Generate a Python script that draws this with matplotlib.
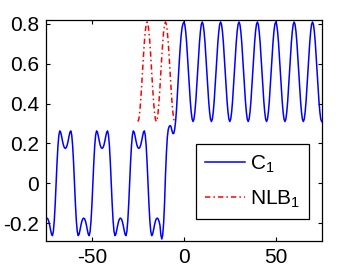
import numpy as np
import matplotlib
matplotlib.use("Agg")
from matplotlib import pyplot as plt

plt.rcParams['font.family'] = ['Liberation Sans', 'DejaVu Sans']
plt.rcParams['mathtext.fontset'] = 'custom'
plt.rcParams['mathtext.rm'] = 'Liberation Sans'
plt.rcParams['mathtext.default'] = 'regular'

# C1, left part: x = -75 ... -13, step 0.5
c1_left = [
    -0.179, -0.175, -0.179, -0.191, -0.211, -0.235, -0.256, -0.263, -0.242, -0.188,
    -0.104, 0.0, 0.104, 0.188, 0.242, 0.263, 0.256, 0.235, 0.211, 0.191, 0.179,
    # period 1
    0.175, 0.179, 0.191, 0.211, 0.235, 0.256, 0.263, 0.242, 0.188, 0.104,
    0.0, -0.104, -0.188, -0.242, -0.263, -0.256, -0.235, -0.211, -0.191, -0.179,
    -0.175, -0.179, -0.191, -0.211, -0.235, -0.256, -0.263, -0.242, -0.188, -0.104,
    0.0, 0.104, 0.188, 0.242, 0.263, 0.256, 0.235, 0.211, 0.191, 0.179,
    # period 2
    0.175, 0.179, 0.191, 0.211, 0.235, 0.256, 0.263, 0.242, 0.188, 0.104,
    0.0, -0.104, -0.188, -0.242, -0.263, -0.256, -0.235, -0.211, -0.191, -0.179,
    -0.175, -0.179, -0.191, -0.211, -0.235, -0.256, -0.263, -0.242, -0.188, -0.104,
    0.0, 0.104, 0.188, 0.242, 0.263, 0.256, 0.235, 0.211, 0.191, 0.179,
    # last
    0.175, 0.179, 0.191, 0.211, 0.235, 0.256, 0.263, 0.242, 0.188, 0.104,
    0.0, -0.104, -0.188, -0.242, -0.263, -0.256, -0.235, -0.211, -0.191, -0.179,
    -0.175, -0.179, -0.191, -0.211,
]

# C1, transition: x = -12.5 ... 0, step 0.5
c1_mid = [
    -0.26, -0.28, -0.26, -0.20, -0.10, 0.04, 0.15, 0.23, 0.27, 0.285,
    0.29, 0.285, 0.265, 0.25, 0.25, 0.27, 0.31, 0.37, 0.45, 0.53,
    0.61, 0.68, 0.74, 0.78, 0.80, 0.81,
]

# C1, right part: x = 0.5 ... 75, step 0.5
c1_right = [
    0.798, 0.762, 0.707, 0.637, 0.56, 0.483, 0.413, 0.358, 0.322, 0.31,
    0.322, 0.358, 0.413, 0.483, 0.56, 0.637, 0.707, 0.762, 0.798,
    0.81, 0.798, 0.762, 0.707, 0.637, 0.56, 0.483, 0.413, 0.358, 0.322,
    0.31, 0.322, 0.358, 0.413, 0.483, 0.56, 0.637, 0.707, 0.762, 0.798,
    0.81, 0.798, 0.762, 0.707, 0.637, 0.56, 0.483, 0.413, 0.358, 0.322,
    0.31, 0.322, 0.358, 0.413, 0.483, 0.56, 0.637, 0.707, 0.762, 0.798,
    0.81, 0.798, 0.762, 0.707, 0.637, 0.56, 0.483, 0.413, 0.358, 0.322,
    0.31, 0.322, 0.358, 0.413, 0.483, 0.56, 0.637, 0.707, 0.762, 0.798,
    0.81, 0.798, 0.762, 0.707, 0.637, 0.56, 0.483, 0.413, 0.358, 0.322,
    0.31, 0.322, 0.358, 0.413, 0.483, 0.56, 0.637, 0.707, 0.762, 0.798,
    0.81, 0.798, 0.762, 0.707, 0.637, 0.56, 0.483, 0.413, 0.358, 0.322,
    0.31, 0.322, 0.358, 0.413, 0.483, 0.56, 0.637, 0.707, 0.762, 0.798,
    0.81, 0.798, 0.762, 0.707, 0.637, 0.56, 0.483, 0.413, 0.358, 0.322,
    0.31, 0.322, 0.358, 0.413, 0.483, 0.56, 0.637, 0.707, 0.762, 0.798,
    0.81, 0.798, 0.762, 0.707, 0.637, 0.56, 0.483, 0.413, 0.358, 0.322,
    0.31,
]

# NLB1: x = -25 ... -5, step 0.5
nlb1 = [
    0.31, 0.322, 0.358, 0.413, 0.483, 0.56, 0.637, 0.707, 0.762, 0.798,
    0.81, 0.798, 0.762, 0.707, 0.637, 0.56, 0.483, 0.413, 0.358, 0.322,
    0.31, 0.322, 0.358, 0.413, 0.483, 0.56, 0.637, 0.707, 0.762, 0.798,
    0.81, 0.798, 0.762, 0.707, 0.637, 0.56, 0.483, 0.413, 0.358, 0.322,
    0.31,
]

c1 = np.array(c1_left + c1_mid + c1_right)
x_c1 = -75 + 0.5 * np.arange(len(c1))
x_nlb = -25 + 0.5 * np.arange(len(nlb1))

xticks = [-50, 0, 50]
yticks = [-0.2, 0, 0.2, 0.4, 0.6, 0.8]

fig = plt.figure(figsize=(3.55, 2.71), dpi=100)
ax = fig.add_axes([0.1296, 0.1107, 0.7766, 0.8155])

ax.plot(x_c1, c1, color='b', lw=1.1, label='C$_1$')
ax.plot(x_nlb, nlb1, color='r', lw=1.1, linestyle=(0, (3.5, 2, 1, 2)), label='NLB$_1$')

ax.set_xlim(-75, 75)
ax.set_ylim(-0.29, 0.82)
ax.set_xticks(xticks)
ax.set_yticks(yticks)
ax.set_yticklabels(['-0.2', '0', '0.2', '0.4', '0.6', '0.8'])
ax.set_xticklabels(['-50', '0', '50'])
ax.tick_params(direction='in', length=3, width=0.8, top=True, right=True,
               labelsize=15, pad=5)
for s in ax.spines.values():
    s.set_linewidth(0.9)

leg = ax.legend(loc='upper left', bbox_to_anchor=(0.543, 0.4376), borderaxespad=0,
                fontsize=15, handlelength=1.9, handletextpad=0.25, borderpad=0.45,
                labelspacing=0.65, fancybox=False, framealpha=1, edgecolor='k')
leg.get_frame().set_linewidth(0.9)

fig.savefig('out.png', dpi=100)
